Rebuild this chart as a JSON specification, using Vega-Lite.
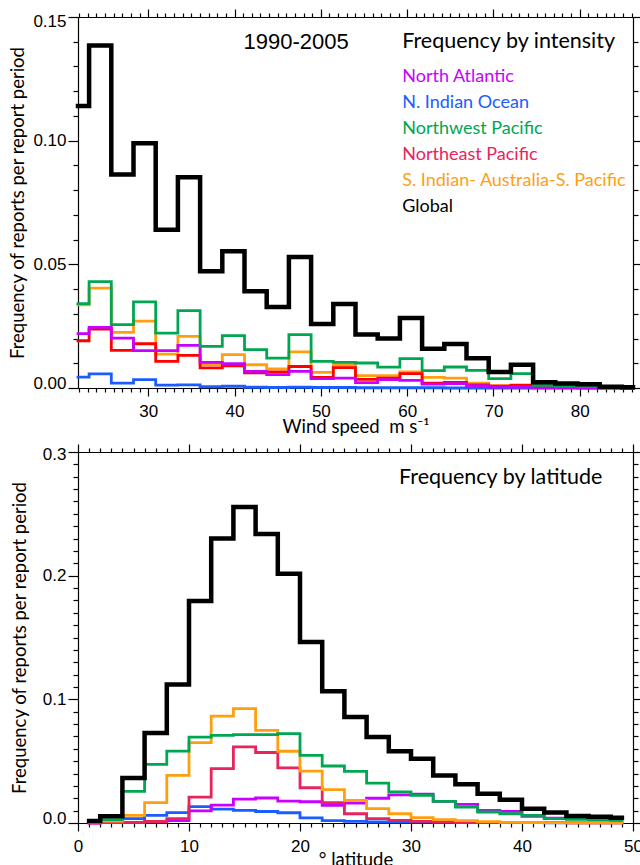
{
  "$schema": "https://vega.github.io/schema/vega-lite/v6.json",
  "background": "white",
  "padding": {"left": 8, "top": 8, "right": 5, "bottom": 0},
  "spacing": 7,
  "config": {
    "view": {"stroke": null},
    "axis": {"domainColor": "#000", "domainWidth": 1.2, "tickColor": "#000", "tickWidth": 1.2, "labelFont": "Liberation Sans", "labelFontSize": 17, "labelColor": "#000", "titleFont": "Lato", "titleFontSize": 18.5, "titleFontWeight": "normal", "titleColor": "#000", "grid": false, "labelFlush": false, "labelOverlap": false}
  },
  "resolve": {"scale": {"color": "independent", "x": "independent", "y": "independent"}},
  "datasets": {
    "intensity": [
      {"s": "N. Indian Ocean", "x": 21.864, "y": 0.0044}, {"s": "N. Indian Ocean", "x": 24.436, "y": 0.0057}, {"s": "N. Indian Ocean", "x": 27.008, "y": 0.002}, {"s": "N. Indian Ocean", "x": 29.581, "y": 0.0034}, {"s": "N. Indian Ocean", "x": 32.153, "y": 0.0012}, {"s": "N. Indian Ocean", "x": 34.725, "y": 0.0013}, {"s": "N. Indian Ocean", "x": 37.297, "y": 0.0005}, {"s": "N. Indian Ocean", "x": 39.869, "y": 0.0007}, {"s": "N. Indian Ocean", "x": 42.442, "y": 0.0003}, {"s": "N. Indian Ocean", "x": 45.014, "y": 0.0002}, {"s": "N. Indian Ocean", "x": 47.586, "y": 0.0003}, {"s": "N. Indian Ocean", "x": 50.158, "y": 0.0002}, {"s": "N. Indian Ocean", "x": 52.731, "y": 0.0002}, {"s": "N. Indian Ocean", "x": 55.303, "y": 0.0001}, {"s": "N. Indian Ocean", "x": 57.875, "y": 0.0001}, {"s": "N. Indian Ocean", "x": 60.447, "y": 0.0001}, {"s": "N. Indian Ocean", "x": 63.019, "y": 0.0001}, {"s": "N. Indian Ocean", "x": 65.592, "y": 0.0}, {"s": "N. Indian Ocean", "x": 68.164, "y": 0.0}, {"s": "N. Indian Ocean", "x": 70.736, "y": 0.0}, {"s": "N. Indian Ocean", "x": 73.308, "y": 0.0}, {"s": "N. Indian Ocean", "x": 75.881, "y": 0.0}, {"s": "N. Indian Ocean", "x": 78.453, "y": 0.0}, {"s": "N. Indian Ocean", "x": 81.025, "y": 0.0}, {"s": "N. Indian Ocean", "x": 83.597, "y": 0.0}, {"s": "N. Indian Ocean", "x": 86.169, "y": 0.0},
      {"s": "S. Indian- Australia-S. Pacific", "x": 21.864, "y": 0.0336}, {"s": "S. Indian- Australia-S. Pacific", "x": 24.436, "y": 0.0404}, {"s": "S. Indian- Australia-S. Pacific", "x": 27.008, "y": 0.0225}, {"s": "S. Indian- Australia-S. Pacific", "x": 29.581, "y": 0.027}, {"s": "S. Indian- Australia-S. Pacific", "x": 32.153, "y": 0.0137}, {"s": "S. Indian- Australia-S. Pacific", "x": 34.725, "y": 0.0209}, {"s": "S. Indian- Australia-S. Pacific", "x": 37.297, "y": 0.0095}, {"s": "S. Indian- Australia-S. Pacific", "x": 39.869, "y": 0.0135}, {"s": "S. Indian- Australia-S. Pacific", "x": 42.442, "y": 0.0094}, {"s": "S. Indian- Australia-S. Pacific", "x": 45.014, "y": 0.0077}, {"s": "S. Indian- Australia-S. Pacific", "x": 47.586, "y": 0.0146}, {"s": "S. Indian- Australia-S. Pacific", "x": 50.158, "y": 0.0063}, {"s": "S. Indian- Australia-S. Pacific", "x": 52.731, "y": 0.0093}, {"s": "S. Indian- Australia-S. Pacific", "x": 55.303, "y": 0.005}, {"s": "S. Indian- Australia-S. Pacific", "x": 57.875, "y": 0.005}, {"s": "S. Indian- Australia-S. Pacific", "x": 60.447, "y": 0.0065}, {"s": "S. Indian- Australia-S. Pacific", "x": 63.019, "y": 0.0043}, {"s": "S. Indian- Australia-S. Pacific", "x": 65.592, "y": 0.004}, {"s": "S. Indian- Australia-S. Pacific", "x": 68.164, "y": 0.002}, {"s": "S. Indian- Australia-S. Pacific", "x": 70.736, "y": 0.001}, {"s": "S. Indian- Australia-S. Pacific", "x": 73.308, "y": 0.0013}, {"s": "S. Indian- Australia-S. Pacific", "x": 75.881, "y": 0.0004}, {"s": "S. Indian- Australia-S. Pacific", "x": 78.453, "y": 0.0003}, {"s": "S. Indian- Australia-S. Pacific", "x": 81.025, "y": 0.0002}, {"s": "S. Indian- Australia-S. Pacific", "x": 83.597, "y": 0.0001}, {"s": "S. Indian- Australia-S. Pacific", "x": 86.169, "y": 0.0001},
      {"s": "Northeast Pacific", "x": 21.864, "y": 0.0191}, {"s": "Northeast Pacific", "x": 24.436, "y": 0.0238}, {"s": "Northeast Pacific", "x": 27.008, "y": 0.0152}, {"s": "Northeast Pacific", "x": 29.581, "y": 0.0179}, {"s": "Northeast Pacific", "x": 32.153, "y": 0.0108}, {"s": "Northeast Pacific", "x": 34.725, "y": 0.0132}, {"s": "Northeast Pacific", "x": 37.297, "y": 0.0081}, {"s": "Northeast Pacific", "x": 39.869, "y": 0.009}, {"s": "Northeast Pacific", "x": 42.442, "y": 0.0061}, {"s": "Northeast Pacific", "x": 45.014, "y": 0.0065}, {"s": "Northeast Pacific", "x": 47.586, "y": 0.0087}, {"s": "Northeast Pacific", "x": 50.158, "y": 0.0043}, {"s": "Northeast Pacific", "x": 52.731, "y": 0.0082}, {"s": "Northeast Pacific", "x": 55.303, "y": 0.0035}, {"s": "Northeast Pacific", "x": 57.875, "y": 0.004}, {"s": "Northeast Pacific", "x": 60.447, "y": 0.0058}, {"s": "Northeast Pacific", "x": 63.019, "y": 0.002}, {"s": "Northeast Pacific", "x": 65.592, "y": 0.0023}, {"s": "Northeast Pacific", "x": 68.164, "y": 0.0013}, {"s": "Northeast Pacific", "x": 70.736, "y": 0.0007}, {"s": "Northeast Pacific", "x": 73.308, "y": 0.0011}, {"s": "Northeast Pacific", "x": 75.881, "y": 0.0003}, {"s": "Northeast Pacific", "x": 78.453, "y": 0.0002}, {"s": "Northeast Pacific", "x": 81.025, "y": 0.0001}, {"s": "Northeast Pacific", "x": 83.597, "y": 0.0001}, {"s": "Northeast Pacific", "x": 86.169, "y": 0.0},
      {"s": "North Atlantic", "x": 21.864, "y": 0.022}, {"s": "North Atlantic", "x": 24.436, "y": 0.0245}, {"s": "North Atlantic", "x": 27.008, "y": 0.0202}, {"s": "North Atlantic", "x": 29.581, "y": 0.0151}, {"s": "North Atlantic", "x": 32.153, "y": 0.0151}, {"s": "North Atlantic", "x": 34.725, "y": 0.0172}, {"s": "North Atlantic", "x": 37.297, "y": 0.0104}, {"s": "North Atlantic", "x": 39.869, "y": 0.0098}, {"s": "North Atlantic", "x": 42.442, "y": 0.0067}, {"s": "North Atlantic", "x": 45.014, "y": 0.0054}, {"s": "North Atlantic", "x": 47.586, "y": 0.0067}, {"s": "North Atlantic", "x": 50.158, "y": 0.0038}, {"s": "North Atlantic", "x": 52.731, "y": 0.004}, {"s": "North Atlantic", "x": 55.303, "y": 0.0022}, {"s": "North Atlantic", "x": 57.875, "y": 0.0034}, {"s": "North Atlantic", "x": 60.447, "y": 0.0031}, {"s": "North Atlantic", "x": 63.019, "y": 0.0016}, {"s": "North Atlantic", "x": 65.592, "y": 0.0018}, {"s": "North Atlantic", "x": 68.164, "y": 0.001}, {"s": "North Atlantic", "x": 70.736, "y": 0.0004}, {"s": "North Atlantic", "x": 73.308, "y": 0.0004}, {"s": "North Atlantic", "x": 75.881, "y": 0.0001}, {"s": "North Atlantic", "x": 78.453, "y": 0.0001}, {"s": "North Atlantic", "x": 81.025, "y": 0.0001}, {"s": "North Atlantic", "x": 83.597, "y": 0.0}, {"s": "North Atlantic", "x": 86.169, "y": 0.0},
      {"s": "Northwest Pacific", "x": 21.864, "y": 0.0341}, {"s": "Northwest Pacific", "x": 24.436, "y": 0.043}, {"s": "Northwest Pacific", "x": 27.008, "y": 0.0256}, {"s": "Northwest Pacific", "x": 29.581, "y": 0.0348}, {"s": "Northwest Pacific", "x": 32.153, "y": 0.0222}, {"s": "Northwest Pacific", "x": 34.725, "y": 0.0313}, {"s": "Northwest Pacific", "x": 37.297, "y": 0.0168}, {"s": "Northwest Pacific", "x": 39.869, "y": 0.0212}, {"s": "Northwest Pacific", "x": 42.442, "y": 0.0155}, {"s": "Northwest Pacific", "x": 45.014, "y": 0.0121}, {"s": "Northwest Pacific", "x": 47.586, "y": 0.0216}, {"s": "Northwest Pacific", "x": 50.158, "y": 0.0108}, {"s": "Northwest Pacific", "x": 52.731, "y": 0.0104}, {"s": "Northwest Pacific", "x": 55.303, "y": 0.0101}, {"s": "Northwest Pacific", "x": 57.875, "y": 0.0084}, {"s": "Northwest Pacific", "x": 60.447, "y": 0.0119}, {"s": "Northwest Pacific", "x": 63.019, "y": 0.007}, {"s": "Northwest Pacific", "x": 65.592, "y": 0.0085}, {"s": "Northwest Pacific", "x": 68.164, "y": 0.0071}, {"s": "Northwest Pacific", "x": 70.736, "y": 0.0038}, {"s": "Northwest Pacific", "x": 73.308, "y": 0.0058}, {"s": "Northwest Pacific", "x": 75.881, "y": 0.0011}, {"s": "Northwest Pacific", "x": 78.453, "y": 0.0009}, {"s": "Northwest Pacific", "x": 81.025, "y": 0.0007}, {"s": "Northwest Pacific", "x": 83.597, "y": 0.0004}, {"s": "Northwest Pacific", "x": 86.169, "y": 0.0003},
      {"s": "Global", "x": 21.864, "y": 0.114}, {"s": "Global", "x": 24.436, "y": 0.1385}, {"s": "Global", "x": 27.008, "y": 0.0863}, {"s": "Global", "x": 29.581, "y": 0.099}, {"s": "Global", "x": 32.153, "y": 0.064}, {"s": "Global", "x": 34.725, "y": 0.0852}, {"s": "Global", "x": 37.297, "y": 0.0472}, {"s": "Global", "x": 39.869, "y": 0.0553}, {"s": "Global", "x": 42.442, "y": 0.0391}, {"s": "Global", "x": 45.014, "y": 0.0327}, {"s": "Global", "x": 47.586, "y": 0.053}, {"s": "Global", "x": 50.158, "y": 0.0259}, {"s": "Global", "x": 52.731, "y": 0.034}, {"s": "Global", "x": 55.303, "y": 0.0216}, {"s": "Global", "x": 57.875, "y": 0.02}, {"s": "Global", "x": 60.447, "y": 0.0283}, {"s": "Global", "x": 63.019, "y": 0.0159}, {"s": "Global", "x": 65.592, "y": 0.0178}, {"s": "Global", "x": 68.164, "y": 0.012}, {"s": "Global", "x": 70.736, "y": 0.0065}, {"s": "Global", "x": 73.308, "y": 0.0094}, {"s": "Global", "x": 75.881, "y": 0.0023}, {"s": "Global", "x": 78.453, "y": 0.0018}, {"s": "Global", "x": 81.025, "y": 0.0015}, {"s": "Global", "x": 83.597, "y": 0.0005}, {"s": "Global", "x": 86.169, "y": 0.0003}
    ],
    "latitude": [
      {"s": "N. Indian Ocean", "x": 1, "y": 0.0008}, {"s": "N. Indian Ocean", "x": 3, "y": 0.0022}, {"s": "N. Indian Ocean", "x": 5, "y": 0.0035}, {"s": "N. Indian Ocean", "x": 7, "y": 0.0062}, {"s": "N. Indian Ocean", "x": 9, "y": 0.0084}, {"s": "N. Indian Ocean", "x": 11, "y": 0.0133}, {"s": "N. Indian Ocean", "x": 13, "y": 0.0112}, {"s": "N. Indian Ocean", "x": 15, "y": 0.0102}, {"s": "N. Indian Ocean", "x": 17, "y": 0.0093}, {"s": "N. Indian Ocean", "x": 19, "y": 0.0083}, {"s": "N. Indian Ocean", "x": 21, "y": 0.0042}, {"s": "N. Indian Ocean", "x": 23, "y": 0.002}, {"s": "N. Indian Ocean", "x": 25, "y": 0.0013}, {"s": "N. Indian Ocean", "x": 27, "y": 0.0008}, {"s": "N. Indian Ocean", "x": 29, "y": 0.0008}, {"s": "N. Indian Ocean", "x": 31, "y": 0.0008}, {"s": "N. Indian Ocean", "x": 33, "y": 0.0008}, {"s": "N. Indian Ocean", "x": 35, "y": 0.0003}, {"s": "N. Indian Ocean", "x": 37, "y": 0.0003}, {"s": "N. Indian Ocean", "x": 39, "y": 0.0003}, {"s": "N. Indian Ocean", "x": 41, "y": 0.0003}, {"s": "N. Indian Ocean", "x": 43, "y": 0.0002}, {"s": "N. Indian Ocean", "x": 45, "y": 0.0002}, {"s": "N. Indian Ocean", "x": 47, "y": 0.0002}, {"s": "N. Indian Ocean", "x": 49, "y": 0.0001},
      {"s": "North Atlantic", "x": 1, "y": 0.0}, {"s": "North Atlantic", "x": 3, "y": 0.0003}, {"s": "North Atlantic", "x": 5, "y": 0.0005}, {"s": "North Atlantic", "x": 7, "y": 0.0008}, {"s": "North Atlantic", "x": 9, "y": 0.002}, {"s": "North Atlantic", "x": 11, "y": 0.0098}, {"s": "North Atlantic", "x": 13, "y": 0.0145}, {"s": "North Atlantic", "x": 15, "y": 0.0193}, {"s": "North Atlantic", "x": 17, "y": 0.0202}, {"s": "North Atlantic", "x": 19, "y": 0.0177}, {"s": "North Atlantic", "x": 21, "y": 0.0172}, {"s": "North Atlantic", "x": 23, "y": 0.0143}, {"s": "North Atlantic", "x": 25, "y": 0.016}, {"s": "North Atlantic", "x": 27, "y": 0.02}, {"s": "North Atlantic", "x": 29, "y": 0.0228}, {"s": "North Atlantic", "x": 31, "y": 0.0234}, {"s": "North Atlantic", "x": 33, "y": 0.0175}, {"s": "North Atlantic", "x": 35, "y": 0.015}, {"s": "North Atlantic", "x": 37, "y": 0.0102}, {"s": "North Atlantic", "x": 39, "y": 0.0094}, {"s": "North Atlantic", "x": 41, "y": 0.0054}, {"s": "North Atlantic", "x": 43, "y": 0.004}, {"s": "North Atlantic", "x": 45, "y": 0.0035}, {"s": "North Atlantic", "x": 47, "y": 0.003}, {"s": "North Atlantic", "x": 49, "y": 0.0027},
      {"s": "Northeast Pacific", "x": 1, "y": 0.0}, {"s": "Northeast Pacific", "x": 3, "y": 0.0003}, {"s": "Northeast Pacific", "x": 5, "y": 0.0005}, {"s": "Northeast Pacific", "x": 7, "y": 0.0012}, {"s": "Northeast Pacific", "x": 9, "y": 0.0035}, {"s": "Northeast Pacific", "x": 11, "y": 0.021}, {"s": "Northeast Pacific", "x": 13, "y": 0.044}, {"s": "Northeast Pacific", "x": 15, "y": 0.0615}, {"s": "Northeast Pacific", "x": 17, "y": 0.057}, {"s": "Northeast Pacific", "x": 19, "y": 0.0446}, {"s": "Northeast Pacific", "x": 21, "y": 0.0285}, {"s": "Northeast Pacific", "x": 23, "y": 0.0165}, {"s": "Northeast Pacific", "x": 25, "y": 0.0075}, {"s": "Northeast Pacific", "x": 27, "y": 0.0035}, {"s": "Northeast Pacific", "x": 29, "y": 0.0022}, {"s": "Northeast Pacific", "x": 31, "y": 0.0013}, {"s": "Northeast Pacific", "x": 33, "y": 0.0008}, {"s": "Northeast Pacific", "x": 35, "y": 0.0008}, {"s": "Northeast Pacific", "x": 37, "y": 0.0005}, {"s": "Northeast Pacific", "x": 39, "y": 0.0005}, {"s": "Northeast Pacific", "x": 41, "y": 0.0004}, {"s": "Northeast Pacific", "x": 43, "y": 0.0003}, {"s": "Northeast Pacific", "x": 45, "y": 0.0002}, {"s": "Northeast Pacific", "x": 47, "y": 0.0002}, {"s": "Northeast Pacific", "x": 49, "y": 0.0001},
      {"s": "S. Indian- Australia-S. Pacific", "x": 1, "y": 0.0008}, {"s": "S. Indian- Australia-S. Pacific", "x": 3, "y": 0.0016}, {"s": "S. Indian- Australia-S. Pacific", "x": 5, "y": 0.0062}, {"s": "S. Indian- Australia-S. Pacific", "x": 7, "y": 0.0164}, {"s": "S. Indian- Australia-S. Pacific", "x": 9, "y": 0.0385}, {"s": "S. Indian- Australia-S. Pacific", "x": 11, "y": 0.065}, {"s": "S. Indian- Australia-S. Pacific", "x": 13, "y": 0.0865}, {"s": "S. Indian- Australia-S. Pacific", "x": 15, "y": 0.0925}, {"s": "S. Indian- Australia-S. Pacific", "x": 17, "y": 0.0749}, {"s": "S. Indian- Australia-S. Pacific", "x": 19, "y": 0.058}, {"s": "S. Indian- Australia-S. Pacific", "x": 21, "y": 0.042}, {"s": "S. Indian- Australia-S. Pacific", "x": 23, "y": 0.027}, {"s": "S. Indian- Australia-S. Pacific", "x": 25, "y": 0.0183}, {"s": "S. Indian- Australia-S. Pacific", "x": 27, "y": 0.0116}, {"s": "S. Indian- Australia-S. Pacific", "x": 29, "y": 0.0075}, {"s": "S. Indian- Australia-S. Pacific", "x": 31, "y": 0.0043}, {"s": "S. Indian- Australia-S. Pacific", "x": 33, "y": 0.0027}, {"s": "S. Indian- Australia-S. Pacific", "x": 35, "y": 0.0019}, {"s": "S. Indian- Australia-S. Pacific", "x": 37, "y": 0.0011}, {"s": "S. Indian- Australia-S. Pacific", "x": 39, "y": 0.0005}, {"s": "S. Indian- Australia-S. Pacific", "x": 41, "y": 0.0004}, {"s": "S. Indian- Australia-S. Pacific", "x": 43, "y": 0.0003}, {"s": "S. Indian- Australia-S. Pacific", "x": 45, "y": 0.0002}, {"s": "S. Indian- Australia-S. Pacific", "x": 47, "y": 0.0002}, {"s": "S. Indian- Australia-S. Pacific", "x": 49, "y": 0.0001},
      {"s": "Northwest Pacific", "x": 1, "y": 0.0013}, {"s": "Northwest Pacific", "x": 3, "y": 0.0027}, {"s": "Northwest Pacific", "x": 5, "y": 0.0256}, {"s": "Northwest Pacific", "x": 7, "y": 0.0474}, {"s": "Northwest Pacific", "x": 9, "y": 0.0582}, {"s": "Northwest Pacific", "x": 11, "y": 0.0695}, {"s": "Northwest Pacific", "x": 13, "y": 0.0709}, {"s": "Northwest Pacific", "x": 15, "y": 0.0714}, {"s": "Northwest Pacific", "x": 17, "y": 0.0714}, {"s": "Northwest Pacific", "x": 19, "y": 0.0722}, {"s": "Northwest Pacific", "x": 21, "y": 0.0547}, {"s": "Northwest Pacific", "x": 23, "y": 0.0461}, {"s": "Northwest Pacific", "x": 25, "y": 0.0418}, {"s": "Northwest Pacific", "x": 27, "y": 0.0323}, {"s": "Northwest Pacific", "x": 29, "y": 0.0251}, {"s": "Northwest Pacific", "x": 31, "y": 0.0224}, {"s": "Northwest Pacific", "x": 33, "y": 0.0175}, {"s": "Northwest Pacific", "x": 35, "y": 0.0129}, {"s": "Northwest Pacific", "x": 37, "y": 0.0089}, {"s": "Northwest Pacific", "x": 39, "y": 0.0075}, {"s": "Northwest Pacific", "x": 41, "y": 0.0062}, {"s": "Northwest Pacific", "x": 43, "y": 0.0035}, {"s": "Northwest Pacific", "x": 45, "y": 0.003}, {"s": "Northwest Pacific", "x": 47, "y": 0.0027}, {"s": "Northwest Pacific", "x": 49, "y": 0.0022},
      {"s": "Global", "x": 1, "y": 0.0016}, {"s": "Global", "x": 3, "y": 0.0054}, {"s": "Global", "x": 5, "y": 0.0364}, {"s": "Global", "x": 7, "y": 0.0728}, {"s": "Global", "x": 9, "y": 0.112}, {"s": "Global", "x": 11, "y": 0.1795}, {"s": "Global", "x": 13, "y": 0.23}, {"s": "Global", "x": 15, "y": 0.2555}, {"s": "Global", "x": 17, "y": 0.2337}, {"s": "Global", "x": 19, "y": 0.2016}, {"s": "Global", "x": 21, "y": 0.1464}, {"s": "Global", "x": 23, "y": 0.1065}, {"s": "Global", "x": 25, "y": 0.0857}, {"s": "Global", "x": 27, "y": 0.0695}, {"s": "Global", "x": 29, "y": 0.058}, {"s": "Global", "x": 31, "y": 0.052}, {"s": "Global", "x": 33, "y": 0.0385}, {"s": "Global", "x": 35, "y": 0.0313}, {"s": "Global", "x": 37, "y": 0.0237}, {"s": "Global", "x": 39, "y": 0.0189}, {"s": "Global", "x": 41, "y": 0.0116}, {"s": "Global", "x": 43, "y": 0.0084}, {"s": "Global", "x": 45, "y": 0.0057}, {"s": "Global", "x": 47, "y": 0.0051}, {"s": "Global", "x": 49, "y": 0.0043}
    ],
    "one": [{}]
  },
  "vconcat": [
    {
      "width": 555,
      "height": 371,
      "resolve": {"axis": {"x": "independent", "y": "independent"}},
      "layer": [
        {
          "data": {"name": "intensity"},
          "transform": [{"filter": "datum.s !== 'Global'"}],
          "mark": {"type": "line", "interpolate": "step", "strokeWidth": 2.8, "strokeJoin": "miter", "strokeCap": "square"},
          "encoding": {
            "x": {"field": "x", "type": "quantitative", "scale": {"domain": [21.864, 86.169], "nice": false, "zero": false},
              "axis": {"orient": "bottom", "values": [22,23,24,25,26,27,28,29,30,31,32,33,34,35,36,37,38,39,40,41,42,43,44,45,46,47,48,49,50,51,52,53,54,55,56,57,58,59,60,61,62,63,64,65,66,67,68,69,70,71,72,73,74,75,76,77,78,79,80,81,82,83,84,85,86], "format": "d", "labelExpr": "datum.value % 10 === 0 ? datum.label : ''", "tickSize": {"condition": {"test": "datum.value % 10 === 0", "value": 8}, "value": 4}, "labelPadding": 7, "title": "Wind speed\u00a0 m s⁻¹", "titlePadding": -2}},
            "y": {"field": "y", "type": "quantitative", "scale": {"domain": [0, 0.15], "nice": false},
              "axis": {"orient": "left", "values": [0,0.01,0.02,0.03,0.04,0.05,0.06,0.07,0.08,0.09,0.1,0.11,0.12,0.13,0.14,0.15], "format": ".2f", "labelExpr": "abs(datum.value*20 - round(datum.value*20)) < 0.000001 ? datum.label : ''", "tickSize": {"condition": {"test": "abs(datum.value*20 - round(datum.value*20)) < 0.000001", "value": 10}, "value": 5}, "labelBaseline": {"condition": {"test": "datum.value === 0", "value": "alphabetic"}, "value": "middle"}, "labelOffset": {"condition": {"test": "datum.value > 0.149", "value": 4}, "value": 0}, "labelPadding": 2, "title": "Frequency of reports per report period", "titlePadding": 5}},
            "color": {"field": "s", "type": "nominal", "legend": null, "scale": {"domain": ["N. Indian Ocean", "S. Indian- Australia-S. Pacific", "Northeast Pacific", "North Atlantic", "Northwest Pacific"], "range": ["#1a5cff", "#ff9f10", "#ff0000", "#c800ff", "#00a651"]}}
          }
        },
        {
          "data": {"name": "intensity"},
          "transform": [{"filter": "datum.s === 'Global'"}],
          "mark": {"type": "line", "interpolate": "step", "strokeWidth": 4.5, "color": "#000", "strokeJoin": "miter", "strokeCap": "square"},
          "encoding": {
            "x": {"field": "x", "type": "quantitative", "scale": {"domain": [21.864, 86.169], "nice": false, "zero": false},
              "axis": {"orient": "top", "values": [22,23,24,25,26,27,28,29,30,31,32,33,34,35,36,37,38,39,40,41,42,43,44,45,46,47,48,49,50,51,52,53,54,55,56,57,58,59,60,61,62,63,64,65,66,67,68,69,70,71,72,73,74,75,76,77,78,79,80,81,82,83,84,85,86], "labels": false, "title": null, "tickSize": {"condition": {"test": "datum.value % 10 === 0", "value": 8}, "value": 4}}},
            "y": {"field": "y", "type": "quantitative", "scale": {"domain": [0, 0.15], "nice": false},
              "axis": {"orient": "right", "values": [0,0.01,0.02,0.03,0.04,0.05,0.06,0.07,0.08,0.09,0.1,0.11,0.12,0.13,0.14,0.15], "labels": false, "title": null, "tickSize": {"condition": {"test": "abs(datum.value*20 - round(datum.value*20)) < 0.000001", "value": 10}, "value": 5}}}
          }
        },
        {"data": {"name": "one"}, "mark": {"type": "text", "text": "1990-2005", "align": "left", "baseline": "alphabetic", "font": "Liberation Sans", "fontSize": 22, "color": "#000"},
         "encoding": {"x": {"datum": 41.05, "type": "quantitative", "axis": null}, "y": {"datum": 0.1371, "type": "quantitative", "axis": null}}},
        {"data": {"name": "one"}, "mark": {"type": "text", "text": "Frequency by intensity", "align": "left", "baseline": "alphabetic", "font": "Lato", "fontSize": 21.5, "color": "#000"},
         "encoding": {"x": {"datum": 59.43, "type": "quantitative", "axis": null}, "y": {"datum": 0.1375, "type": "quantitative", "axis": null}}},
        {"data": {"name": "one"}, "mark": {"type": "text", "text": "North Atlantic", "align": "left", "baseline": "alphabetic", "font": "Lato", "fontSize": 18, "color": "#c800ff"},
         "encoding": {"x": {"datum": 59.43, "type": "quantitative", "axis": null}, "y": {"datum": 0.1237, "type": "quantitative", "axis": null}}},
        {"data": {"name": "one"}, "mark": {"type": "text", "text": "N. Indian Ocean", "align": "left", "baseline": "alphabetic", "font": "Lato", "fontSize": 18, "color": "#1a5cff"},
         "encoding": {"x": {"datum": 59.43, "type": "quantitative", "axis": null}, "y": {"datum": 0.1132, "type": "quantitative", "axis": null}}},
        {"data": {"name": "one"}, "mark": {"type": "text", "text": "Northwest Pacific", "align": "left", "baseline": "alphabetic", "font": "Lato", "fontSize": 18, "color": "#00a651"},
         "encoding": {"x": {"datum": 59.43, "type": "quantitative", "axis": null}, "y": {"datum": 0.1027, "type": "quantitative", "axis": null}}},
        {"data": {"name": "one"}, "mark": {"type": "text", "text": "Northeast Pacific", "align": "left", "baseline": "alphabetic", "font": "Lato", "fontSize": 18, "color": "#e8245c"},
         "encoding": {"x": {"datum": 59.43, "type": "quantitative", "axis": null}, "y": {"datum": 0.0922, "type": "quantitative", "axis": null}}},
        {"data": {"name": "one"}, "mark": {"type": "text", "text": "S. Indian- Australia-S. Pacific", "align": "left", "baseline": "alphabetic", "font": "Lato", "fontSize": 18, "color": "#ff9f10"},
         "encoding": {"x": {"datum": 59.43, "type": "quantitative", "axis": null}, "y": {"datum": 0.0817, "type": "quantitative", "axis": null}}},
        {"data": {"name": "one"}, "mark": {"type": "text", "text": "Global", "align": "left", "baseline": "alphabetic", "font": "Lato", "fontSize": 18, "color": "#000"},
         "encoding": {"x": {"datum": 59.43, "type": "quantitative", "axis": null}, "y": {"datum": 0.0711, "type": "quantitative", "axis": null}}}
      ]
    },
    {
      "width": 555,
      "height": 371,
      "resolve": {"axis": {"x": "independent", "y": "independent"}},
      "layer": [
        {
          "data": {"name": "latitude"},
          "transform": [{"filter": "datum.s !== 'Global'"}],
          "mark": {"type": "line", "interpolate": "step", "strokeWidth": 2.8, "strokeJoin": "miter", "strokeCap": "square"},
          "encoding": {
            "x": {"field": "x", "type": "quantitative", "scale": {"domain": [0, 50], "nice": false},
              "axis": {"orient": "bottom", "values": [0,1,2,3,4,5,6,7,8,9,10,11,12,13,14,15,16,17,18,19,20,21,22,23,24,25,26,27,28,29,30,31,32,33,34,35,36,37,38,39,40,41,42,43,44,45,46,47,48,49,50], "format": "d", "labelExpr": "datum.value % 10 === 0 ? datum.label : ''", "tickSize": {"condition": {"test": "datum.value % 10 === 0", "value": 8}, "value": 4}, "labelPadding": 7, "title": "° latitude", "titlePadding": -4}},
            "y": {"field": "y", "type": "quantitative", "scale": {"domain": [0, 0.3], "nice": false},
              "axis": {"orient": "left", "values": [0,0.01,0.02,0.03,0.04,0.05,0.06,0.07,0.08,0.09,0.1,0.11,0.12,0.13,0.14,0.15,0.16,0.17,0.18,0.19,0.2,0.21,0.22,0.23,0.24,0.25,0.26,0.27,0.28,0.29,0.3], "format": ".1f", "labelExpr": "abs(datum.value*10 - round(datum.value*10)) < 0.000001 ? datum.label : ''", "tickSize": {"condition": {"test": "abs(datum.value*10 - round(datum.value*10)) < 0.000001", "value": 10}, "value": 5}, "labelBaseline": {"condition": {"test": "datum.value === 0", "value": "alphabetic"}, "value": "middle"}, "labelOffset": {"condition": {"test": "datum.value > 0.299", "value": 2}, "value": 0}, "labelPadding": 2, "title": "Frequency of reports per report period", "titlePadding": 13}},
            "color": {"field": "s", "type": "nominal", "legend": null, "scale": {"domain": ["N. Indian Ocean", "North Atlantic", "Northeast Pacific", "S. Indian- Australia-S. Pacific", "Northwest Pacific"], "range": ["#1a5cff", "#c800ff", "#e8245c", "#ff9f10", "#00a651"]}}
          }
        },
        {
          "data": {"name": "latitude"},
          "transform": [{"filter": "datum.s === 'Global'"}],
          "mark": {"type": "line", "interpolate": "step", "strokeWidth": 4.5, "color": "#000", "strokeJoin": "miter", "strokeCap": "square"},
          "encoding": {
            "x": {"field": "x", "type": "quantitative", "scale": {"domain": [0, 50], "nice": false},
              "axis": {"orient": "top", "values": [0,1,2,3,4,5,6,7,8,9,10,11,12,13,14,15,16,17,18,19,20,21,22,23,24,25,26,27,28,29,30,31,32,33,34,35,36,37,38,39,40,41,42,43,44,45,46,47,48,49,50], "labels": false, "title": null, "tickSize": {"condition": {"test": "datum.value % 10 === 0", "value": 8}, "value": 4}}},
            "y": {"field": "y", "type": "quantitative", "scale": {"domain": [0, 0.3], "nice": false},
              "axis": {"orient": "right", "values": [0,0.01,0.02,0.03,0.04,0.05,0.06,0.07,0.08,0.09,0.1,0.11,0.12,0.13,0.14,0.15,0.16,0.17,0.18,0.19,0.2,0.21,0.22,0.23,0.24,0.25,0.26,0.27,0.28,0.29,0.3], "labels": false, "title": null, "tickSize": {"condition": {"test": "abs(datum.value*10 - round(datum.value*10)) < 0.000001", "value": 10}, "value": 5}}}
          }
        },
        {"data": {"name": "one"}, "mark": {"type": "text", "text": "Frequency by latitude", "align": "left", "baseline": "alphabetic", "font": "Lato", "fontSize": 21.5, "color": "#000"},
         "encoding": {"x": {"datum": 28.92, "type": "quantitative", "axis": null}, "y": {"datum": 0.2743, "type": "quantitative", "axis": null}}}
      ]
    }
  ]
}
